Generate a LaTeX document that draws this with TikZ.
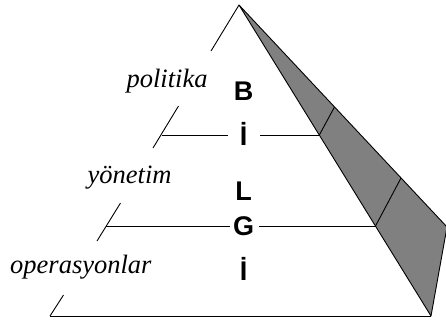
\documentclass[tikz,border=0pt]{standalone}
\usepackage{fontspec}
\setmainfont{Liberation Serif}
\setsansfont{Liberation Sans}
\definecolor{shade}{gray}{0.5}
\begin{document}
\begin{tikzpicture}[x=1pt,y=-1pt,line width=0.9pt,
  letter/.style={anchor=base,inner sep=0pt,font=\sffamily\bfseries\fontsize{27}{30}\selectfont},
  label/.style={anchor=base east,inner sep=0pt,font=\itshape\fontsize{26.5}{30}\selectfont}]
\useasboundingbox (0,0) rectangle (446,322);
% key points
\coordinate (apex) at (239,5);
\coordinate (bl) at (50,316);
\coordinate (br) at (431,316);
\coordinate (out) at (447,227);
\coordinate (in1) at (319.3,135);
\coordinate (out1) at (334.5,107);
\coordinate (in2) at (375.5,226);
\coordinate (out2) at (401,178);
% shaded face
\begin{scope}
\clip (0,0) rectangle (446,322);
\filldraw[fill=shade,line join=round] (apex) -- (out) -- (br) -- cycle;
\end{scope}
\draw (in1) -- (out1);
\draw (in2) -- (out2);
% base
\draw (bl) -- (br);
% left edge segments
\coordinate (e1a) at (211,51);
\coordinate (e2a) at (178.5,106);
\coordinate (e2b) at (153,148);
\coordinate (e3a) at (120.5,203);
\coordinate (e3b) at (97,241);
\coordinate (e4a) at (63.5,295);
\draw (apex) -- (e1a);
\draw (e2a) -- (e2b);
\draw (e3a) -- (e3b);
\draw (e4a) -- (bl);
% horizontal lines
\coordinate (h1l) at (161.5,135);
\coordinate (h1m) at (228,135);
\coordinate (h1n) at (260,135);
\coordinate (h2l) at (106,226);
\coordinate (h2m) at (229.5,226);
\coordinate (h2n) at (259,226);
\draw (h1l) -- (h1m);
\draw (h1n) -- (in1);
\draw (h2l) -- (h2m);
\draw (h2n) -- (in2);
% letters
\node[letter] (b) at (243.5,100) {B};
\node[letter] (i1) at (243.5,145) {İ};
\node[letter] (l) at (243.5,200) {L};
\node[letter] (g) at (243.5,235) {G};
\node[letter] (i2) at (243.5,280) {İ};
% labels
\node[label] (pol) at (208,87) {politika};
\node[label] (yon) at (172,183) {yönetim};
\node[label] (ops) at (152,273) {operasyonlar};
\end{tikzpicture}
\end{document}
